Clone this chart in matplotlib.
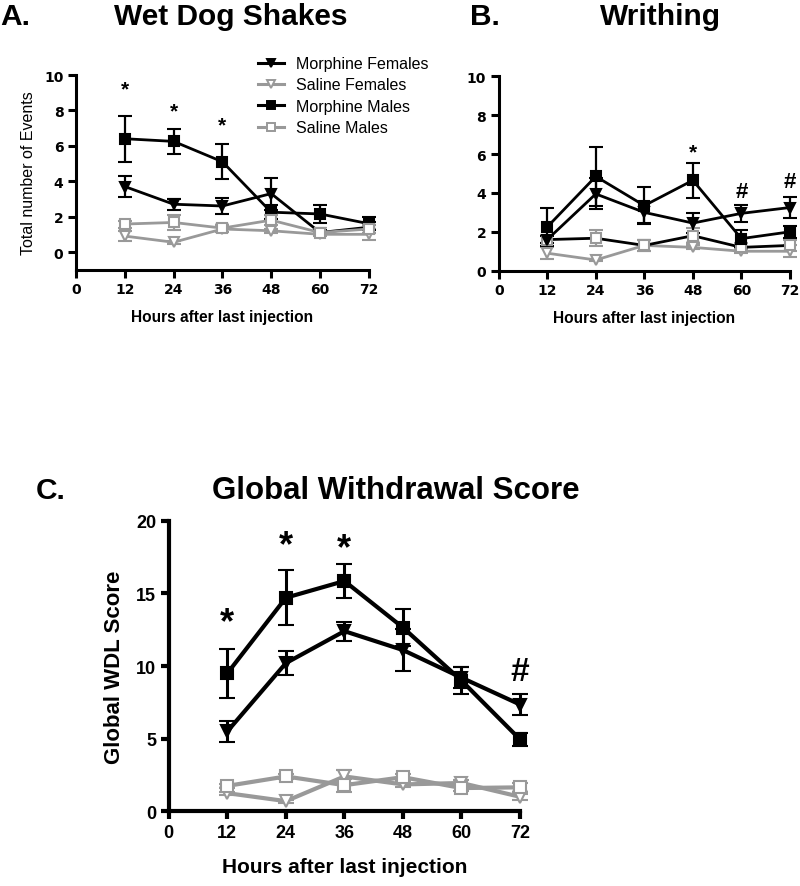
import matplotlib
matplotlib.use("Agg")
import matplotlib.pyplot as plt
from matplotlib.lines import Line2D
import numpy as np

plt.rcParams['font.family'] = ['Liberation Sans', 'DejaVu Sans']

hours = [12, 24, 36, 48, 60, 72]
xticks = [0, 12, 24, 36, 48, 60, 72]
series_names = ["Morphine Females", "Saline Females", "Morphine Males", "Saline Males"]

# Panel A: Wet Dog Shakes
wds_mf = [3.7, 2.7, 2.6, 3.3, 1.1, 1.4]
wds_mf_err = [0.6, 0.3, 0.45, 0.9, 0.15, 0.3]
wds_sf = [0.9, 0.55, 1.3, 1.2, 1.0, 1.0]
wds_sf_err = [0.3, 0.1, 0.15, 0.1, 0.1, 0.3]
wds_mm = [6.4, 6.25, 5.1, 2.25, 2.15, 1.6]
wds_mm_err = [1.3, 0.7, 1.0, 0.4, 0.5, 0.37]
wds_sm = [1.58, 1.67, 1.35, 1.8, 1.1, 1.3]
wds_sm_err = [0.2, 0.4, 0.2, 0.3, 0.1, 0.2]
wds_marks = [(12, 9.2, "*"), (24, 8.0, "*"), (36, 7.2, "*")]

# Panel B: Writhing
wr_mf = [1.6, 3.95, 3.0, 2.45, 2.95, 3.25]
wr_mf_err = [0.2, 0.8, 0.55, 0.5, 0.45, 0.55]
wr_sf = [0.9, 0.55, 1.3, 1.2, 1.0, 1.0]
wr_sf_err = [0.3, 0.05, 0.3, 0.1, 0.1, 0.3]
wr_mm = [2.25, 4.85, 3.35, 4.65, 1.65, 2.0]
wr_mm_err = [1.0, 1.5, 0.95, 0.9, 0.45, 0.3]
wr_sm = [1.6, 1.67, 1.3, 1.8, 1.2, 1.3]
wr_sm_err = [0.2, 0.4, 0.3, 0.4, 0.2, 0.3]
wr_marks = [(48, 6.1, "*"), (60, 4.1, "#"), (72, 4.6, "#")]

# Panel C: Global Withdrawal Score
gw_mf = [5.5, 10.2, 12.4, 11.1, 9.2, 7.35]
gw_mf_err = [0.7, 0.8, 0.65, 1.45, 0.7, 0.7]
gw_sf = [1.25, 0.7, 2.4, 1.85, 1.95, 1.0]
gw_sf_err = [0.1, 0.1, 0.45, 0.2, 0.2, 0.2]
gw_mm = [9.5, 14.7, 15.85, 12.65, 9.0, 4.95]
gw_mm_err = [1.7, 1.9, 1.2, 1.25, 0.9, 0.45]
gw_sm = [1.75, 2.4, 1.8, 2.35, 1.6, 1.65]
gw_sm_err = [0.15, 0.2, 0.45, 0.2, 0.2, 0.3]
gw_marks = [(12, 13.0, "*"), (24, 18.3, "*"), (36, 18.1, "*"), (72, 9.6, "#")]

BLACK = "#000000"
GRAY = "#999999"

fig = plt.figure(figsize=(8.0, 8.87), dpi=100)


def draw_series(ax, y, err, color, marker, filled, lw=2.0, ms=6.5, line_color=None,
                ew=1.6, cs=5):
    lc = line_color if line_color is not None else color
    ax.errorbar(hours, y, yerr=err, color=lc, ecolor=color, elinewidth=ew, capsize=cs,
                capthick=ew, linewidth=lw, marker=marker, markersize=ms,
                markerfacecolor=color if filled else "white",
                markeredgecolor=color, markeredgewidth=1.5, zorder=3)


def unclip(ax):
    for art in ax.get_children():
        try:
            art.set_clip_on(False)
        except Exception:
            pass
    for coll in ax.collections:
        coll.set_clip_on(False)
    for ln in ax.lines:
        ln.set_clip_on(False)


def style_axes(ax, ylim, yticks, fs, family=None, spine_w=2.2):
    ax.set_xlim(0, 72)
    ax.set_ylim(*ylim)
    ax.set_xticks(xticks)
    ax.set_yticks(yticks)
    for s in ["top", "right"]:
        ax.spines[s].set_visible(False)
    for s in ["left", "bottom"]:
        ax.spines[s].set_linewidth(spine_w)
    ax.tick_params(width=spine_w, length=6, direction="out", pad=3)
    for lab in ax.get_xticklabels() + ax.get_yticklabels():
        lab.set_fontweight("bold")
        lab.set_fontsize(fs)
        if family:
            lab.set_family(family)


# ---- Panel A ----
axA = fig.add_axes([0.095, 0.6948, 0.366, 0.2195])
draw_series(axA, wds_mf, wds_mf_err, BLACK, "v", True)
draw_series(axA, wds_sf, wds_sf_err, GRAY, "v", False)
draw_series(axA, wds_mm, wds_mm_err, BLACK, "s", True)
draw_series(axA, wds_sm, wds_sm_err, GRAY, "s", False)
style_axes(axA, (-1, 10), [0, 2, 4, 6, 8, 10], 10, family=["DejaVu Sans"])
axA.set_ylabel("Total number of Events", fontsize=11.5, labelpad=6)
axA.set_xlabel("Hours after last injection", fontsize=11.2, fontweight="bold", labelpad=9)
for x, y, t in wds_marks:
    axA.text(x, y, t, ha="center", va="center", fontsize=15, fontweight="bold")

legend_styles = [(BLACK, "v", True), (GRAY, "v", False), (BLACK, "s", True), (GRAY, "s", False)]
handles = [Line2D([], [], color=c, lw=2.2, marker=m, markersize=5.5,
                  markerfacecolor=c if f else "white", markeredgecolor=c, markeredgewidth=1.4)
           for c, m, f in legend_styles]
axA.legend(handles, series_names, loc="upper left", bbox_to_anchor=(0.6, 1.13),
           frameon=False, fontsize=11.5, handlelength=1.6, labelspacing=0.4,
           handletextpad=0.8, borderaxespad=0)

# ---- Panel B ----
axB = fig.add_axes([0.6234, 0.6937, 0.364, 0.2191])
draw_series(axB, wr_sf, wr_sf_err, GRAY, "v", False)
draw_series(axB, wr_sm, wr_sm_err, GRAY, "s", False, line_color=BLACK)
draw_series(axB, wr_mf, wr_mf_err, BLACK, "v", True)
draw_series(axB, wr_mm, wr_mm_err, BLACK, "s", True)
style_axes(axB, (0, 10), [0, 2, 4, 6, 8, 10], 10, family=["DejaVu Sans"])
axB.set_xlabel("Hours after last injection", fontsize=11.2, fontweight="bold", labelpad=9)
for x, y, t in wr_marks:
    axB.text(x, y, t, ha="center", va="center", fontsize=15 if t == "*" else 16,
             fontweight="bold")

# ---- Panel C ----
axC = fig.add_axes([0.211, 0.0842, 0.439, 0.3276])
draw_series(axC, gw_sf, gw_sf_err, GRAY, "v", False, lw=3, ms=9, ew=2.2, cs=6)
draw_series(axC, gw_sm, gw_sm_err, GRAY, "s", False, lw=3, ms=9, ew=2.2, cs=6)
draw_series(axC, gw_mf, gw_mf_err, BLACK, "v", True, lw=3, ms=9, ew=2.2, cs=6)
draw_series(axC, gw_mm, gw_mm_err, BLACK, "s", True, lw=3, ms=9, ew=2.2, cs=6)
style_axes(axC, (0, 20), [0, 5, 10, 15, 20], 13, spine_w=3)
axC.set_ylabel("Global WDL Score", fontsize=16, fontweight="bold", labelpad=8)
axC.set_xlabel("Hours after last injection", fontsize=15, fontweight="bold", labelpad=12)
for x, y, t in gw_marks:
    axC.text(x, y, t, ha="center", va="center", fontsize=26 if t == "*" else 24,
             fontweight="bold")
unclip(axA); unclip(axB); unclip(axC)

# ---- Titles ----
fig.text(0.0, 0.981, "A.", fontsize=21.5, fontweight="bold", va="center", ha="left")
fig.text(0.288, 0.981, "Wet Dog Shakes", fontsize=21.5, fontweight="bold", va="center", ha="center")
fig.text(0.587, 0.981, "B.", fontsize=21.5, fontweight="bold", va="center", ha="left")
fig.text(0.825, 0.981, "Writhing", fontsize=21.5, fontweight="bold", va="center", ha="center")
fig.text(0.045, 0.447, "C.", fontsize=21.5, fontweight="bold", va="center", ha="left")
fig.text(0.495, 0.447, "Global Withdrawal Score", fontsize=22.5, fontweight="bold",
         va="center", ha="center")

fig.savefig("out.png", dpi=100)
